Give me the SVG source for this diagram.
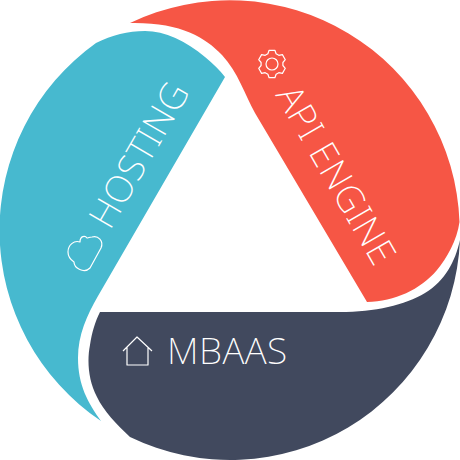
<svg xmlns="http://www.w3.org/2000/svg" width="460" height="460" viewBox="0 0 460 460">
<style>
.l{font-family:"Noto Sans","Open Sans",sans-serif;font-weight:200;font-size:37px;letter-spacing:.5px;fill:#fff}
.i{fill:none;stroke:#fff;stroke-width:1.2;stroke-linejoin:round}
</style>
<rect width="460" height="460" fill="#fff"/>
<g id="connectors"/>
<g id="hosting">
<path fill="#47b9cf" d="M101 421A230 230 0 0 1 96 43C112 35 128 31 145 31C165 31 186 41 205 57C213 64 220 70 225 77L98 296C87 315 78 335 78 358C78 385 88 403 101 421Z"/>
<path class="i" d="M90 268L101 248C104 241 98 235 92 237C89 237 88 238 87 238C85 235 80 236 80 242C74 240 68 245 68 252C68 257 71 260 74 262C74 268 84 274 90 268Z"/>
<text class="l" transform="translate(110 231) rotate(-60)">HOSTING</text>
</g>
<g id="api-engine">
<path fill="#f65645" d="M130 23A230 230 0 0 1 459.5 222C457 240 447 258 437 270C420 290 395 301 367 302L255 113C245 95 238 72 222 55C205 37 180 22 130 23Z"/>
<path class="i" d="M269.1 50.3L274.9 50.3L276.1 53.8L278.8 55.3L282.4 54.6L285.3 59.7L282.9 62.5L282.9 65.5L285.3 68.3L282.4 73.4L278.8 72.7L276.1 74.2L274.9 77.7L269.1 77.7L267.9 74.2L265.2 72.7L261.6 73.4L258.7 68.3L261.1 65.5L261.1 62.5L258.7 59.7L261.6 54.6L265.2 55.3L267.9 53.8Z"/>
<circle class="i" cx="272" cy="64" r="6"/>
<text class="l" transform="translate(275 95) rotate(60)">API ENGINE</text>
</g>
<g id="mbaas">
<path fill="#41495e" d="M100 312L340 312C375 312 405 305 425 293C445 281 455 262 460 240A230 230 0 0 1 130 437C117 425 103 410 97 397C88 380 87 360 90 345C92 332 95 322 100 312Z"/>
<path class="i" d="M123 351L137 337L152 351M127 347V365H148V347"/>
<text class="l" x="167" y="364">MBAAS</text>
</g>
</svg>
